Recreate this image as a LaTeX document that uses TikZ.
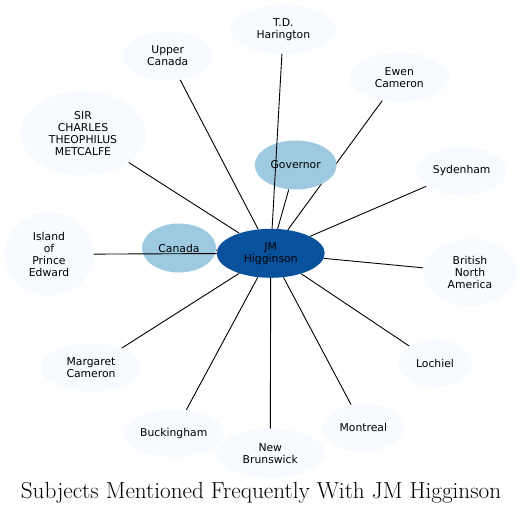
\documentclass[tikz,border=0pt]{standalone}
\usepackage{fontspec}
\newfontfamily\labelfont{DejaVu Sans}
\usetikzlibrary{shapes.geometric,backgrounds}
\definecolor{paleBlue}{HTML}{F7FBFF}
\definecolor{midBlue}{HTML}{9ECAE1}
\definecolor{deepBlue}{HTML}{08519C}

\tikzset{
  subj/.style={ellipse,fill=paleBlue,inner sep=0pt,align=center,
    font=\labelfont\fontsize{10.8}{12}\selectfont},
  hub/.style={subj,fill=midBlue},
  link/.style={line width=0.9pt}
}

\begin{document}
\begin{tikzpicture}[x=1pt,y=-1pt]
  \useasboundingbox (0,0) rectangle (526,514);

  % centre and the two mid-blue subjects
  \node[subj,fill=deepBlue,minimum width=108pt,minimum height=49pt] (jm) at (270.7,253.3) {JM\\Higginson};
  \node[hub,minimum width=74pt,minimum height=49pt] (canada) at (179,248) {Canada};
  \node[hub,minimum width=82pt,minimum height=49pt] (governor) at (295.7,165) {Governor};

  % outer ring
  \node[subj,minimum width=106pt,minimum height=49pt] (harington) at (283.3,29.3) {T.D.\\Harington};
  \node[subj,minimum width=90pt,minimum height=49pt] (upper) at (167.7,56) {Upper\\Canada};
  \node[subj,minimum width=100pt,minimum height=49pt] (ewen) at (399.3,77.3) {Ewen\\Cameron};
  \node[subj,minimum width=126pt,minimum height=84pt] (metcalfe) at (83,133.3) {SIR\\CHARLES\\THEOPHILUS\\METCALFE};
  \node[subj,minimum width=91pt,minimum height=48pt] (sydenham) at (461.7,171) {Sydenham};
  \node[subj,minimum width=89pt,minimum height=84pt] (island) at (49,254.3) {Island\\of\\Prince\\Edward};
  \node[subj,minimum width=94pt,minimum height=67pt] (bna) at (470,272.3) {British\\North\\America};
  \node[subj,minimum width=100pt,minimum height=49pt] (margaret) at (91,367.7) {Margaret\\Cameron};
  \node[subj,minimum width=73pt,minimum height=48pt] (lochiel) at (435,363.3) {Lochiel};
  \node[subj,minimum width=101pt,minimum height=48pt] (buckingham) at (173.7,433.3) {Buckingham};
  \node[subj,minimum width=109pt,minimum height=49pt] (brunswick) at (270.3,453.3) {New\\Brunswick};
  \node[subj,minimum width=81pt,minimum height=48pt] (montreal) at (363.3,427.7) {Montreal};

  \begin{pgfonlayer}{background}
    \foreach \other in {canada,governor,upper,ewen,metcalfe,sydenham,bna,margaret,lochiel,buckingham,brunswick,montreal}
      \draw[link] (jm) -- (\other);
  \end{pgfonlayer}
  % these two run over the mid-blue nodes
  \draw[link] (jm) -- (harington);
  \draw[link] (jm) -- (island);

  \node[font=\fontsize{23.2}{27}\selectfont] (title) at (261,492.3) {Subjects Mentioned Frequently With JM Higginson};
\end{tikzpicture}
\end{document}
